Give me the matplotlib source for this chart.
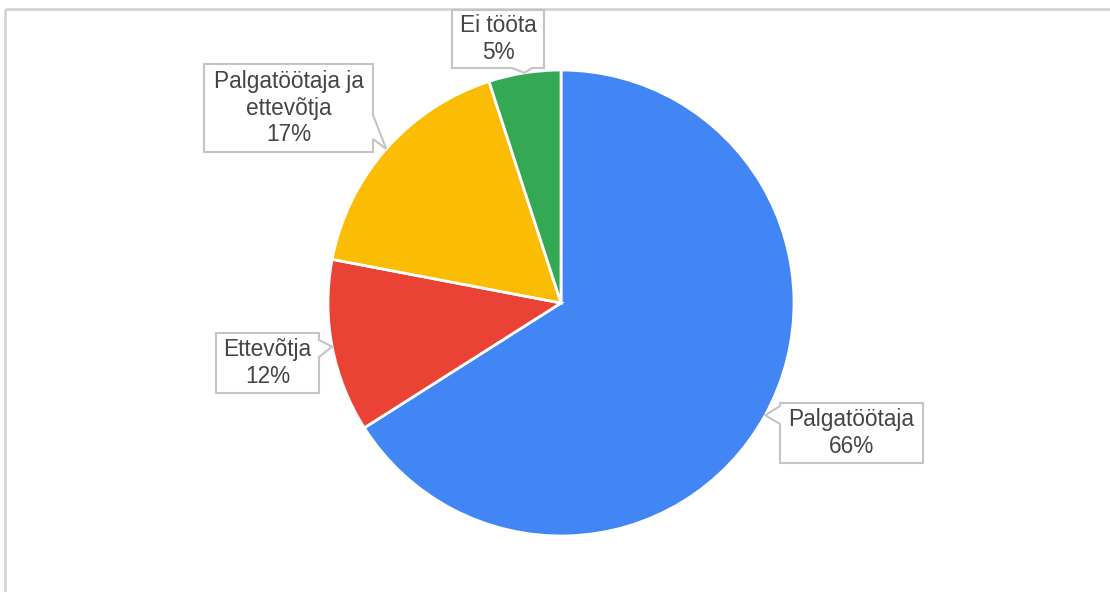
import numpy as np
import matplotlib.pyplot as plt
from matplotlib.patches import Polygon

plt.rcParams['font.family'] = ['Liberation Sans', 'DejaVu Sans']

labels = ['Palgatöötaja', 'Ettevõtja', 'Palgatöötaja ja\nettevõtja', 'Ei tööta']
shares = [66, 12, 17, 5]
colors = ['#4285F4', '#EA4335', '#FBBC04', '#34A853']

W, H = 1110, 592
fig = plt.figure(figsize=(W / 100, H / 100), dpi=100)
ax = fig.add_axes([0, 0, 1, 1])
ax.set_xlim(0, W)
ax.set_ylim(0, H)
ax.set_aspect('equal')
ax.axis('off')


def py(y):
    # pixel row (from top) -> data y
    return H - y


cx, cy, r = 561, 303, 233
wedges, _ = ax.pie(shares, colors=colors, startangle=90, counterclock=False,
                   center=(cx, py(cy)), radius=r, frame=True,
                   wedgeprops=dict(edgecolor='white', linewidth=2))
ax.set_xlim(0, W)
ax.set_ylim(0, H)
ax.axis('off')

# callout boxes: (x0, y0, x1, y1) in pixels from top-left, side of the tab, tab base span
boxes = [
    ((780, 403, 923, 463), 'left', (406, 424)),
    ((216, 333, 319, 393), 'right', (340, 357)),
    ((204, 64, 373, 152), 'right', (115, 139)),
    ((452, 10, 544, 68), 'bottom', (512, 532)),
]

for w, lab, s, (box, side, base) in zip(wedges, labels, shares, boxes):
    mid = np.deg2rad((w.theta1 + w.theta2) / 2)
    tx = cx + r * np.cos(mid)
    ty = py(cy) + r * np.sin(mid)
    x0, y0, x1, y1 = box
    Y0, Y1 = py(y0), py(y1)
    b0, b1 = base
    if side == 'left':
        pts = [(x0, Y0), (x1, Y0), (x1, Y1), (x0, Y1),
               (x0, py(b1)), (tx, ty), (x0, py(b0))]
    elif side == 'right':
        pts = [(x0, Y0), (x1, Y0), (x1, py(b0)), (tx, ty),
               (x1, py(b1)), (x1, Y1), (x0, Y1)]
    else:
        pts = [(x0, Y0), (x1, Y0), (x1, Y1), (b1, Y1),
               (tx, ty), (b0, Y1), (x0, Y1)]
    ax.add_patch(Polygon(pts, closed=True, facecolor='white',
                         edgecolor='#c4c4c4', linewidth=1.5, zorder=3))
    ax.text((x0 + x1) / 2, (Y0 + Y1) / 2, f'{lab}\n{s}%', ha='center',
            va='center', fontsize=16.3, color='#444444', linespacing=1.2,
            zorder=4)

# chart frame (left and top edges)
ax.plot([5, 5], [0, py(8.5)], color='#d4d4d4', linewidth=2, solid_capstyle='butt')
ax.plot([5, W], [py(8.5), py(8.5)], color='#d4d4d4', linewidth=2, solid_capstyle='butt')

fig.savefig('out.png', dpi=100)
